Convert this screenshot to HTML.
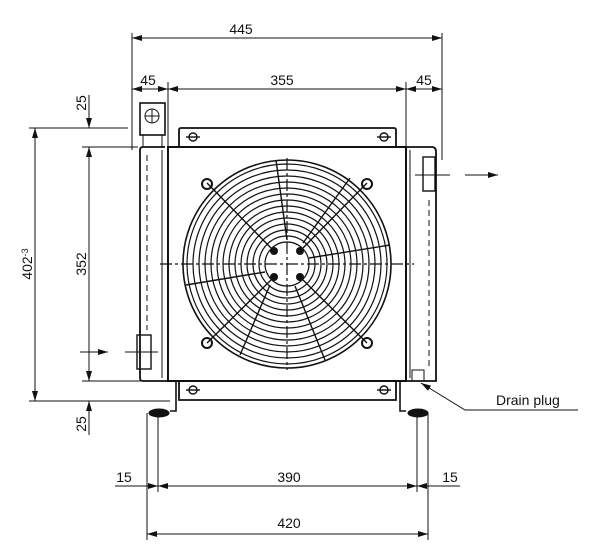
<!DOCTYPE html>
<html><head><style>
html,body{margin:0;padding:0;background:#fff;}
svg{display:block;}
text{font-family:"Liberation Sans",sans-serif;font-size:14px;fill:#111;}
</style></head><body>
<svg width="600" height="559" viewBox="0 0 600 559" xmlns="http://www.w3.org/2000/svg">
<defs>
<marker id="a" viewBox="0 0 10 6" refX="10" refY="3" markerWidth="10" markerHeight="6" orient="auto-start-reverse" markerUnits="userSpaceOnUse"><path d="M0,0L10,3L0,6z" fill="#111"/></marker>
</defs>
<g stroke="#111" fill="none" stroke-width="1">
<!-- top dimension lines -->
<line x1="132" y1="33" x2="132" y2="150"/>
<line x1="442" y1="33" x2="442" y2="160"/>
<line x1="132" y1="38" x2="442" y2="38" marker-start="url(#a)" marker-end="url(#a)"/>
<line x1="168" y1="82" x2="168" y2="147"/>
<line x1="406" y1="82" x2="406" y2="147"/>
<line x1="132" y1="89" x2="168" y2="89" marker-start="url(#a)" marker-end="url(#a)"/>
<line x1="168" y1="89" x2="406" y2="89" marker-start="url(#a)" marker-end="url(#a)"/>
<line x1="406" y1="89" x2="442" y2="89" marker-start="url(#a)" marker-end="url(#a)"/>
<!-- left dims -->
<line x1="29" y1="128" x2="128" y2="128"/>
<line x1="29" y1="401" x2="170" y2="401"/>
<line x1="35" y1="128" x2="35" y2="401" marker-start="url(#a)" marker-end="url(#a)"/>
<line x1="82" y1="147" x2="138" y2="147"/>
<line x1="82" y1="381" x2="168" y2="381"/>
<line x1="89" y1="147" x2="89" y2="381" marker-start="url(#a)" marker-end="url(#a)"/>
<line x1="89" y1="95" x2="89" y2="128" marker-end="url(#a)"/>
<line x1="89" y1="435" x2="89" y2="401" marker-end="url(#a)"/>
<!-- inlet / outlet arrows -->
<line x1="80" y1="352" x2="108" y2="352" marker-end="url(#a)"/>
<line x1="465" y1="175" x2="498" y2="175" marker-end="url(#a)"/>
<!-- main body -->
<rect x="168" y="147" width="238" height="234" stroke-width="2"/>
<path d="M179,147V130Q179,128 181,128H394Q396,128 396,130V147" stroke-width="1.8"/>
<path d="M179,381V400H396V381" stroke-width="1.8"/>
<!-- left tank -->
<path d="M165,147H143Q140,147 140,150V378Q140,381 143,381H168" stroke-width="1.8"/>
<line x1="147" y1="155" x2="147" y2="330" stroke-dasharray="6,4"/>
<line x1="162" y1="150" x2="162" y2="378"/>
<rect x="140" y="103" width="25" height="32" stroke-width="1.6"/>
<circle cx="152" cy="116" r="7"/>
<line x1="145" y1="116" x2="159" y2="116"/>
<line x1="152" y1="109" x2="152" y2="123"/>
<rect x="143" y="135" width="19" height="12"/>
<rect x="137" y="335" width="14" height="34" stroke-width="1.4"/>
<line x1="125" y1="352" x2="158" y2="352"/>
<!-- right tank -->
<path d="M406,147H432Q436,147 436,152V381H406" stroke-width="1.8"/>
<line x1="429" y1="200" x2="429" y2="370" stroke-dasharray="6,4"/>
<line x1="410" y1="150" x2="410" y2="378"/>
<rect x="423" y="157" width="12" height="34" stroke-width="1.4"/>
<line x1="415" y1="175" x2="450" y2="175"/>
<rect x="412" y="370" width="12" height="11"/>
<!-- bracket holes -->
<g stroke-width="1.4">
<circle cx="193" cy="137" r="4"/><circle cx="384" cy="137" r="4"/>
<circle cx="193" cy="390" r="4"/><circle cx="384" cy="390" r="4"/>
<line x1="186" y1="137" x2="200" y2="137"/><line x1="377" y1="137" x2="391" y2="137"/>
<line x1="186" y1="390" x2="200" y2="390"/><line x1="377" y1="390" x2="391" y2="390"/>
</g>
<!-- feet -->
<path d="M176,381V411H170" stroke-width="1.6"/>
<path d="M400,381V411H406" stroke-width="1.6"/>
<ellipse cx="159" cy="413" rx="10" ry="4" fill="#111"/>
<ellipse cx="418" cy="413" rx="10" ry="4" fill="#111"/>
<!-- bottom dims -->
<line x1="147" y1="413" x2="147" y2="540"/>
<line x1="158" y1="413" x2="158" y2="492"/>
<line x1="417" y1="413" x2="417" y2="492"/>
<line x1="428" y1="413" x2="428" y2="540"/>
<line x1="115" y1="486" x2="158" y2="486" marker-end="url(#a)"/>
<line x1="158" y1="486" x2="417" y2="486" marker-start="url(#a)" marker-end="url(#a)"/>
<line x1="460" y1="486" x2="417" y2="486" marker-end="url(#a)"/>
<line x1="147" y1="534" x2="428" y2="534" marker-start="url(#a)" marker-end="url(#a)"/>
<!-- drain plug leader -->
<polyline points="421,383 465,410 578,410" marker-start="url(#a)"/>
<!-- fan -->
<g stroke-width="1.2">
<circle cx="287" cy="264" r="104" stroke-width="1.6"/>
<circle cx="287" cy="264" r="100"/>
<circle cx="287" cy="264" r="94"/><circle cx="287" cy="264" r="88"/><circle cx="287" cy="264" r="82"/>
<circle cx="287" cy="264" r="76"/><circle cx="287" cy="264" r="70"/><circle cx="287" cy="264" r="64"/>
<circle cx="287" cy="264" r="58"/><circle cx="287" cy="264" r="52"/><circle cx="287" cy="264" r="46"/>
<circle cx="287" cy="264" r="40"/><circle cx="287" cy="264" r="34"/><circle cx="287" cy="264" r="28"/>
<circle cx="287" cy="264" r="22"/>
</g>
<g stroke-width="1.4">
<line x1="274" y1="251" x2="207" y2="183"/><line x1="300" y1="251" x2="367" y2="183"/>
<line x1="274" y1="277" x2="207" y2="343"/><line x1="300" y1="277" x2="367" y2="343"/>
<line x1="287" y1="240" x2="276" y2="160"/><line x1="309" y1="258" x2="390" y2="245"/>
<line x1="295" y1="286" x2="325" y2="360"/><line x1="265" y1="272" x2="186" y2="285"/>
<line x1="270" y1="285" x2="240" y2="355"/><line x1="303" y1="243" x2="350" y2="178"/>
</g>
<g stroke-width="1.2" stroke-dasharray="12,3,3,3">
<line x1="160" y1="264" x2="414" y2="264"/>
<line x1="287" y1="158" x2="287" y2="370"/>
</g>
<g fill="#111" stroke="none">
<circle cx="274" cy="251" r="4"/><circle cx="300" cy="251" r="4"/>
<circle cx="274" cy="277" r="4"/><circle cx="300" cy="277" r="4"/>
</g>
<g stroke-width="2">
<circle cx="207" cy="184" r="5"/><circle cx="367" cy="184" r="5"/>
<circle cx="207" cy="343" r="5"/><circle cx="367" cy="343" r="5"/>
</g>
</g>
<!-- labels -->
<text x="241" y="34" text-anchor="middle">445</text>
<text x="148" y="85" text-anchor="middle">45</text>
<text x="282" y="85" text-anchor="middle">355</text>
<text x="424" y="85" text-anchor="middle">45</text>
<text transform="translate(86,103) rotate(-90)" text-anchor="middle">25</text>
<text transform="translate(86,264) rotate(-90)" text-anchor="middle">352</text>
<text transform="translate(32,264) rotate(-90)" text-anchor="middle">402<tspan font-size="9" dy="-4">-3</tspan></text>
<text transform="translate(86,424) rotate(-90)" text-anchor="middle">25</text>
<text x="124" y="482" text-anchor="middle">15</text>
<text x="289" y="482" text-anchor="middle">390</text>
<text x="450" y="482" text-anchor="middle">15</text>
<text x="289" y="528" text-anchor="middle">420</text>
<text x="496" y="405" font-size="13">Drain plug</text>
</svg>
</body></html>
